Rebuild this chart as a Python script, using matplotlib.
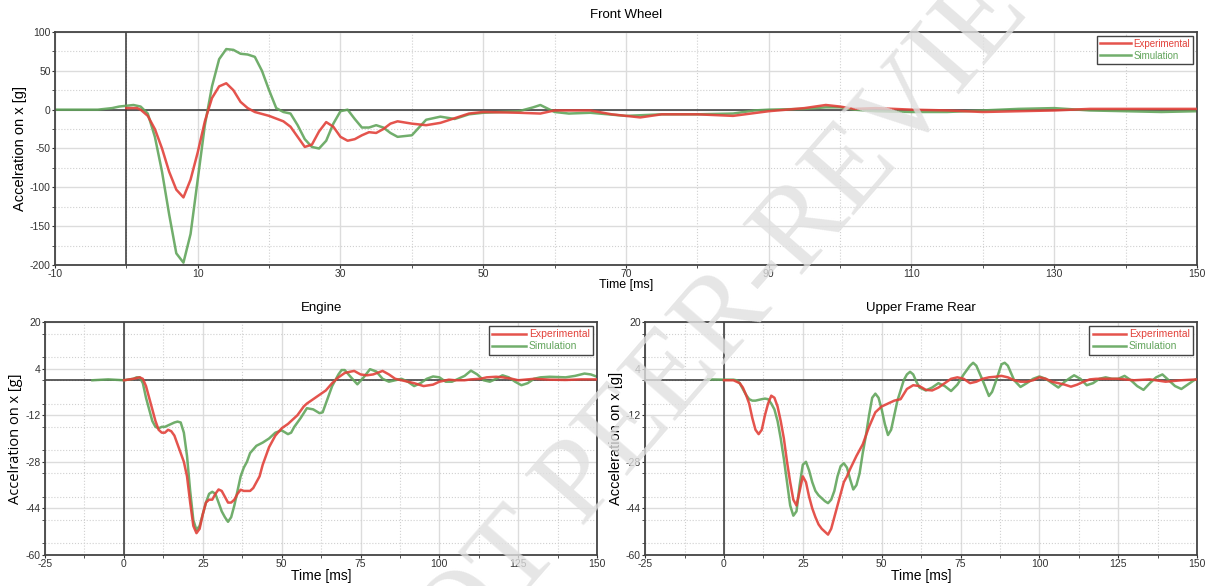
import numpy as np
import matplotlib.pyplot as plt
from matplotlib.ticker import MultipleLocator

plt.rcParams['font.family'] = ['Liberation Sans', 'DejaVu Sans']
plt.rcParams['axes.unicode_minus'] = False

RED = '#e2413a'
GREEN = '#62a55c'

# ---- Front Wheel ----
fw_t_exp = [0, 1.5, 2, 3, 4, 5, 6, 7, 8, 9, 10, 11, 12, 13, 14, 15, 16, 17, 18, 20, 22, 23, 24, 25,
            26, 27, 28, 29, 30, 31, 32, 33, 34, 35, 36, 37, 38, 40, 42, 44, 46, 48, 50, 55, 58, 60,
            65, 68, 72, 75, 80, 85, 90, 95, 98, 100, 102, 105, 110, 115, 120, 125, 130, 135, 140,
            145, 150]
fw_exp = [2, 2, 0, -8, -25, -50, -80, -103, -113, -90, -55, -15, 15, 30, 34, 25, 10, 2, -3, -8, -15,
          -22, -35, -48, -45, -28, -16, -22, -35, -40, -38, -33, -29, -30, -25, -18, -15, -18, -20,
          -17, -11, -5, -3, -4, -5, -1, -1, -6, -10, -6, -6, -8, -2, 2, 6, 4, 1, 2, 0, -1, -3, -2,
          -1, 1, 1, 1, 1]
fw_t_sim = [-10, -4, -2, -1, 0, 1, 2, 3, 4, 5, 6, 7, 8, 9, 10, 11, 12, 13, 14, 15, 16, 17, 18, 19, 20,
            21, 22, 23, 24, 25, 26, 27, 28, 29, 30, 31, 32, 33, 34, 35, 36, 37, 38, 40, 42, 44, 46,
            48, 50, 55, 57, 58, 60, 62, 65, 70, 75, 80, 85, 88, 90, 95, 98, 100, 102, 105, 110, 115,
            120, 125, 130, 135, 140, 145, 150]
fw_sim = [0, 0, 2, 4, 5, 6, 4, -5, -35, -80, -135, -185, -197, -160, -90, -20, 30, 65, 78, 77, 72,
          71, 68, 50, 25, 2, -3, -5, -20, -38, -48, -50, -40, -18, -2, 0, -12, -23, -23, -20, -23,
          -30, -35, -33, -13, -9, -12, -6, -4, -2, 3, 6, -3, -5, -4, -8, -6, -6, -5, -1, 0, 1, 3, 3,
          0, -2, -3, -3, -1, 1, 2, -1, -2, -3, -2]

# ---- Engine ----
en_t_exp = [0, 3, 5, 6, 7, 8, 9, 10, 11, 12, 13, 14, 15, 16, 17, 18, 19, 20, 21, 22, 23, 24, 25, 26,
            27, 28, 29, 30, 31, 32, 33, 34, 35, 36, 37, 38, 39, 40, 41, 42, 43, 44, 45, 46, 47, 48,
            50, 52, 54, 55, 57, 58, 60, 62, 64, 66, 68, 70, 72, 73, 75, 77, 79, 81, 82, 84, 86, 88,
            90, 92, 95, 98, 100, 103, 105, 108, 110, 113, 115, 118, 120, 123, 125, 128, 130, 135,
            140, 145, 150]
en_exp = [0, 0.5, 1, 0.5, -2, -6, -10, -14, -17, -18, -18, -17, -17.5, -19, -22, -25, -28, -33, -42,
          -50, -52.5, -51, -46, -42, -41, -41, -39, -37.5, -38, -40, -42, -42, -41, -39, -37.6, -38,
          -38, -38, -37, -35, -33, -29, -26, -23, -21, -19, -16.5, -15, -13, -12, -9, -8, -6.5, -5,
          -3.5, -1, 1, 2.5, 3, 3.2, 2, 1.7, 2, 2.8, 3.2, 2, 0.5, 0, -0.5, -1, -2, -1.5, -0.5, 0.2, 0,
          0, 0.3, 0.5, 1, 1.2, 1, 0.5, 0, 0.3, 0.5, 0.2, 0.1, 0.3, 0.3]
en_t_sim = [-10, -5, 0, 3, 4, 5, 6, 7, 8, 9, 10, 11, 12, 13, 14, 15, 16, 17, 18, 19, 20, 21, 22, 23,
            24, 25, 26, 27, 28, 29, 30, 31, 32, 33, 34, 35, 36, 37, 38, 39, 40, 42, 44, 46, 48, 50,
            52, 53, 54, 56, 58, 60, 62, 63, 64, 66, 68, 69, 70, 72, 74, 76, 78, 80, 82, 84, 86, 88,
            90, 92, 94, 96, 98, 100, 102, 104, 106, 108, 110, 112, 114, 116, 118, 120, 122, 124, 126,
            128, 130, 132, 135, 140, 143, 146, 148, 150]
en_sim = [0, 0.3, 0, 0.5, 1, 1, -1, -6, -10, -14, -16, -16.5, -16, -16, -15.5, -15, -14.5, -14.2,
          -14.5, -18, -26, -38, -48, -51.4, -50, -46, -42, -39, -38.3, -39, -42, -45, -47, -48.6, -47,
          -43, -38, -33, -30, -28, -25, -22.5, -21.4, -20, -18, -17.2, -18.5, -18, -16, -13, -9.6,
          -10, -11.3, -11, -8, -2, 2, 3.5, 3.5, 1, -1.4, 1, 3.8, 3, 0.5, -0.5, 0, 0.5, -0.5, -2, -1,
          0.5, 1.3, 1, -0.5, -0.5, 0.5, 1.5, 3.3, 2, 0, -0.5, 0.5, 1.7, 1, -0.5, -1.7, -1, 0.5, 1,
          1.2, 1, 1.5, 2.3, 2, 1.2]

# ---- Upper Frame Rear ----
uf_t_exp = [0, 3, 5, 6, 7, 8, 9, 10, 11, 12, 13, 14, 15, 16, 17, 18, 19, 20, 21, 22, 23, 24, 25, 26,
            27, 28, 29, 30, 31, 32, 33, 34, 35, 36, 37, 38, 39, 40, 42, 44, 46, 48, 50, 52, 54, 56,
            58, 60, 62, 64, 66, 68, 70, 72, 74, 76, 78, 80, 82, 84, 86, 88, 90, 92, 94, 96, 98, 100,
            102, 104, 106, 108, 110, 112, 114, 116, 118, 120, 125, 130, 135, 140, 145, 150]
uf_exp = [0, 0, -1, -2.5, -5, -8, -13, -17, -18.5, -17, -12, -8, -5.3, -6, -9, -14, -20, -28, -35,
          -41, -43, -38, -33, -35, -40, -44, -47, -49.5, -51, -52, -53, -51, -47, -43, -39, -35, -33,
          -30.5, -26, -22, -16, -11, -9, -8, -7, -6.5, -3, -1.7, -2, -3.3, -3.5, -2.5, -1, 0.5, 1,
          0.5, -1, -0.5, 0.5, 1, 1.2, 1.5, 1, 0, -0.5, -0.5, 0, 1, 0.5, -0.5, -1, -1.5, -2.2, -1.5,
          -0.5, 0.3, 0.5, 0.5, 0.5, 0, 0.3, -0.5, 0, 0.3]
uf_t_sim = [-5, 0, 3, 4, 5, 6, 7, 8, 9, 10, 12, 13, 14, 15, 16, 17, 18, 19, 20, 21, 22, 23, 24, 25,
            26, 27, 28, 29, 30, 31, 32, 33, 34, 35, 36, 37, 38, 39, 40, 41, 42, 43, 44, 45, 46, 47,
            48, 49, 50, 51, 52, 53, 54, 55, 56, 57, 58, 59, 60, 61, 62, 64, 66, 68, 70, 72, 74, 76,
            78, 79, 80, 82, 84, 85, 86, 88, 89, 90, 92, 94, 96, 98, 100, 102, 104, 106, 108, 110,
            111, 113, 115, 117, 119, 121, 123, 125, 127, 129, 131, 133, 135, 137, 139, 141, 143, 145,
            147, 149, 150]
uf_sim = [0.3, 0.2, 0.2, 0, -1, -3, -5, -6.5, -7, -7, -6.5, -6.3, -6.5, -8, -10, -14, -20, -27, -35,
          -43, -46.5, -45, -36, -29, -28, -31, -35, -38, -39.5, -40.5, -41.5, -42.2, -41, -38, -33,
          -29.5, -28.5, -30, -34, -37.5, -36, -32, -25, -19, -12, -6, -4.6, -6, -10, -15, -18.8, -17,
          -12, -7, -3.5, 0, 2, 2.9, 2, -0.5, -2.5, -3.5, -2.5, -1, -2, -3.7, -1.5, 2, 5, 6, 5, 0,
          -5.4, -4, -1, 5.5, 6, 5, 0, -2.3, -1, 0.5, 1.3, 0.5, -1, -2.5, -0.5, 1, 1.7, 0.5, -1.7,
          -1, 0.5, 1, 0.5, 0.5, 1.5, 0, -2, -3.3, -1, 1, 2, 0, -2, -3, -1.5, 0, 0.5]


def style_axes(ax, xmaj, xmin, ymaj, ymin):
    ax.xaxis.set_major_locator(MultipleLocator(xmaj))
    ax.xaxis.set_minor_locator(MultipleLocator(xmin))
    ax.yaxis.set_major_locator(MultipleLocator(ymaj))
    ax.yaxis.set_minor_locator(MultipleLocator(ymin))
    ax.grid(which='major', color='#dcdcdc', lw=1.0)
    ax.grid(which='minor', color='#d0d0d0', lw=0.8, ls=':')
    ax.set_axisbelow(True)
    for s in ax.spines.values():
        s.set_color('#444444')
        s.set_linewidth(1.3)
    ax.tick_params(which='both', length=2, labelsize=7.5, pad=1, colors='#333333')
    ax.axhline(0, color='#333333', lw=1.1, zorder=1.5)
    ax.axvline(0, color='#333333', lw=1.1, zorder=1.5)


def add_legend(ax, fs):
    leg = ax.legend(loc='upper right', fontsize=fs, fancybox=False, framealpha=1,
                    edgecolor='#444444', handlelength=3.2, handletextpad=0.3,
                    borderpad=0.3, labelspacing=0.2, borderaxespad=0.4)
    leg.get_frame().set_linewidth(1.0)
    for txt, c in zip(leg.get_texts(), [RED, GREEN]):
        txt.set_color(c)


fig = plt.figure(figsize=(12.08, 5.86), dpi=100)

ax1 = fig.add_axes([0.0455, 0.5478, 0.9454, 0.3976])
ax1.plot(fw_t_exp, fw_exp, color=RED, lw=1.8, alpha=0.9, label='Experimental', zorder=3)
ax1.plot(fw_t_sim, fw_sim, color=GREEN, lw=1.8, alpha=0.9, label='Simulation', zorder=2.5)
ax1.set_xlim(-10, 150)
ax1.set_ylim(-200, 100)
style_axes(ax1, 20, 10, 50, 25)
ax1.set_xticks(np.arange(-10, 151, 20))
ax1.set_title('Front Wheel', fontsize=9.5, pad=10)
ax1.set_xlabel('Time [ms]', fontsize=9, labelpad=0)
ax1.set_ylabel('Accelration on x [g]', fontsize=10.5, labelpad=2)
add_legend(ax1, 7)

ax2 = fig.add_axes([0.0373, 0.0529, 0.457, 0.3976])
ax2.plot(en_t_exp, en_exp, color=RED, lw=1.8, alpha=0.9, label='Experimental', zorder=3)
ax2.plot(en_t_sim, en_sim, color=GREEN, lw=1.8, alpha=0.9, label='Simulation', zorder=2.5)
ax2.set_xlim(-25, 150)
ax2.set_ylim(-60, 20)
style_axes(ax2, 25, 12.5, 16, 8)
ax2.set_yticks(np.arange(-60, 21, 16))
ax2.set_title('Engine', fontsize=9.5, pad=8)
ax2.set_xlabel('Time [ms]', fontsize=10, labelpad=0)
ax2.set_ylabel('Accelration on x [g]', fontsize=10.5, family='Open Sans', labelpad=2)
add_legend(ax2, 7.5)

ax3 = fig.add_axes([0.534, 0.0529, 0.457, 0.3976])
ax3.plot(uf_t_exp, uf_exp, color=RED, lw=1.8, alpha=0.9, label='Experimental', zorder=3)
ax3.plot(uf_t_sim, uf_sim, color=GREEN, lw=1.8, alpha=0.9, label='Simulation', zorder=2.5)
ax3.set_xlim(-25, 150)
ax3.set_ylim(-60, 20)
style_axes(ax3, 25, 12.5, 16, 8)
ax3.set_yticks(np.arange(-60, 21, 16))
ax3.set_title('Upper Frame Rear', fontsize=9.5, pad=8)
ax3.set_xlabel('Time [ms]', fontsize=10, labelpad=0)
ax3.set_ylabel('Acceleration on x [g]', fontsize=10.5, labelpad=2)
add_legend(ax3, 7.5)

# watermark
fig.text(0.333, -0.254, 'NOT PEER-REVIEWED', fontsize=86, family='Liberation Serif',
         color='#e0e0e0', alpha=0.8, rotation=49, rotation_mode='anchor',
         ha='left', va='baseline', zorder=10)

fig.savefig('out.png', dpi=100)
